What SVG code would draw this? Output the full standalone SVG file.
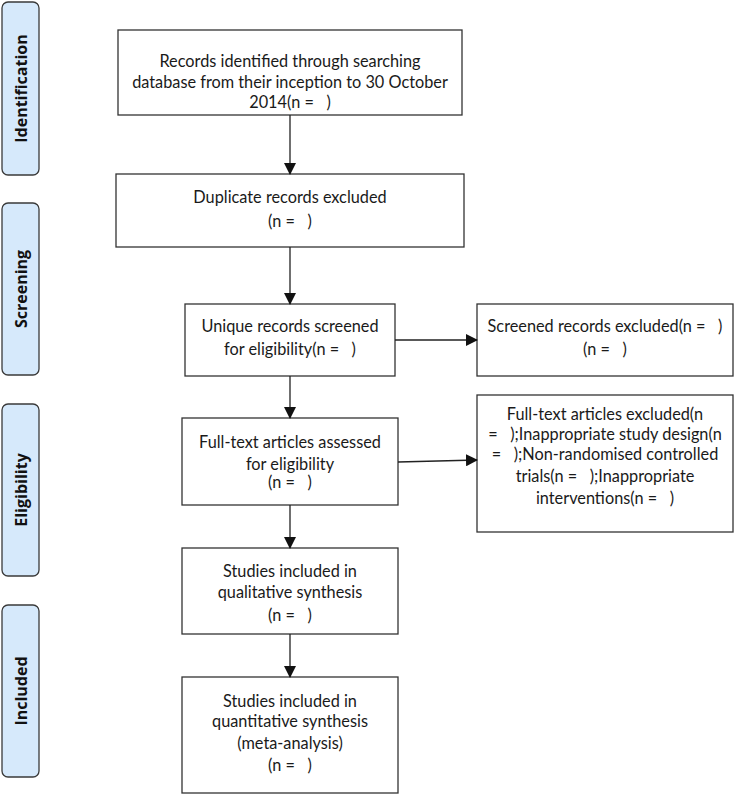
<svg xmlns="http://www.w3.org/2000/svg" width="752" height="796" viewBox="0 0 752 796" xml:space="preserve">
<defs>
<style>
.lab{fill:#d6e9fb;stroke:#3a3a3a;stroke-width:1.3}
.labt{font-family:"Open Sans","DejaVu Sans",sans-serif;font-weight:bold;font-size:16px;fill:#111;text-anchor:middle}
.box{fill:#fff;stroke:#333;stroke-width:1.3}
.t{font-family:Lato,"Liberation Sans",sans-serif;font-size:16.3px;fill:#1a1a1a;text-anchor:middle;white-space:pre}
.c{stroke:#222;stroke-width:1.3;fill:none}
</style>
<marker id="ah" markerWidth="12" markerHeight="12" refX="11" refY="6" orient="auto" markerUnits="userSpaceOnUse">
<path d="M0,0 L12,6 L0,12 Z" fill="#111"/>
</marker>
</defs>
<rect width="752" height="796" fill="#fff"/>
<g id="lab-identification"><rect class="lab" x="2" y="2" width="37" height="173" rx="6"/><text class="labt" transform="translate(27,88.5) rotate(-90)">Identification</text></g>
<g id="lab-screening"><rect class="lab" x="2" y="203" width="37" height="172" rx="6"/><text class="labt" transform="translate(27,289) rotate(-90)">Screening</text></g>
<g id="lab-eligibility"><rect class="lab" x="2" y="404" width="37" height="172" rx="6"/><text class="labt" transform="translate(27,490) rotate(-90)">Eligibility</text></g>
<g id="lab-included"><rect class="lab" x="2" y="605" width="37" height="172" rx="6"/><text class="labt" transform="translate(27,691) rotate(-90)">Included</text></g>

<g id="n1"><rect class="box" x="118" y="30" width="344" height="85"/>
<text class="t" x="290" y="67">Records identified through searching</text>
<text class="t" x="290" y="88">database from their inception to 30 October</text>
<text class="t" x="290" y="108">2014(n =   )</text></g>
<g id="n2"><rect class="box" x="116" y="174" width="348" height="73"/>
<text class="t" x="290" y="203">Duplicate records excluded</text>
<text class="t" x="290" y="227">(n =   )</text></g>
<g id="n3"><rect class="box" x="185" y="304" width="210" height="72"/>
<text class="t" x="290" y="332">Unique records screened</text>
<text class="t" x="290" y="355">for eligibility(n =   )</text></g>
<g id="n4"><rect class="box" x="477" y="304" width="256" height="72"/>
<text class="t" x="605" y="332">Screened records excluded(n =   )</text>
<text class="t" x="605" y="355">(n =   )</text></g>
<g id="n5"><rect class="box" x="182" y="418" width="216" height="87"/>
<text class="t" x="290" y="448">Full-text articles assessed</text>
<text class="t" x="290" y="470">for eligibility</text>
<text class="t" x="290" y="488">(n =   )</text></g>
<g id="n6"><rect class="box" x="477" y="395" width="256" height="137"/>
<text class="t" x="605" y="420">Full-text articles excluded(n</text>
<text class="t" x="605" y="440">=   );Inappropriate study design(n</text>
<text class="t" x="605" y="460">=   );Non-randomised controlled</text>
<text class="t" x="605" y="482">trials(n =   );Inappropriate</text>
<text class="t" x="605" y="504">interventions(n =   )</text></g>
<g id="n7"><rect class="box" x="182" y="548" width="216" height="86"/>
<text class="t" x="290" y="577">Studies included in</text>
<text class="t" x="290" y="598">qualitative synthesis</text>
<text class="t" x="290" y="621">(n =   )</text></g>
<g id="n8"><rect class="box" x="182" y="677" width="216" height="116"/>
<text class="t" x="290" y="707">Studies included in</text>
<text class="t" x="290" y="727">quantitative synthesis</text>
<text class="t" x="290" y="749">(meta-analysis)</text>
<text class="t" x="290" y="771">(n =   )</text></g>

<g id="connectors">
<line class="c" x1="290" y1="115" x2="290" y2="174" marker-end="url(#ah)"/>
<line class="c" x1="290" y1="247" x2="290" y2="304" marker-end="url(#ah)"/>
<line class="c" x1="395" y1="340" x2="477" y2="340" marker-end="url(#ah)"/>
<line class="c" x1="290" y1="376" x2="290" y2="418" marker-end="url(#ah)"/>
<line class="c" x1="398" y1="462" x2="477" y2="460" marker-end="url(#ah)"/>
<line class="c" x1="290" y1="505" x2="290" y2="548" marker-end="url(#ah)"/>
<line class="c" x1="290" y1="634" x2="290" y2="677" marker-end="url(#ah)"/>
</g>
</svg>
